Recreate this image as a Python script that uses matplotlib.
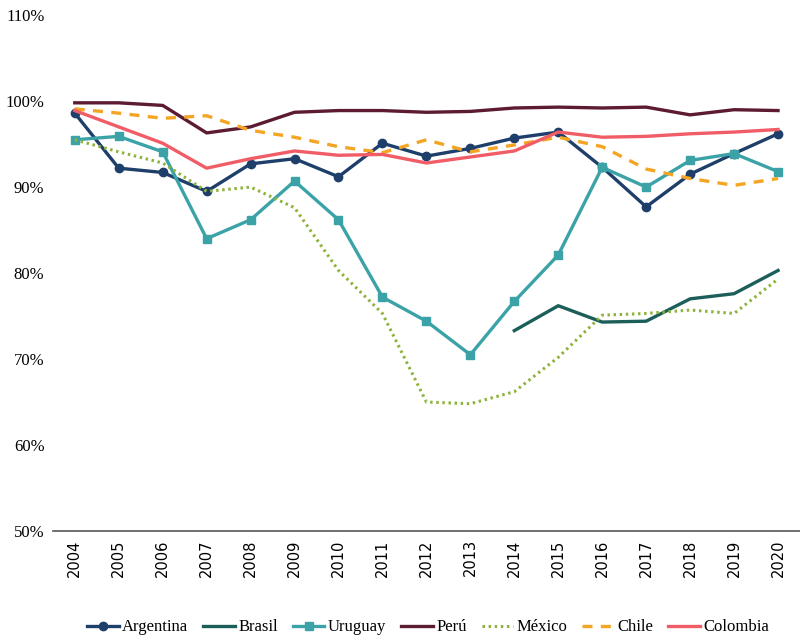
# Cobertura por país 2004-2020

import matplotlib.pyplot as plt
import numpy as np
from matplotlib.ticker import PercentFormatter

# Data
years = list(range(2004, 2021))
argentina = [98.6, 92.2, 91.7, 89.5, 92.7, 93.3, 91.2, 95.1, 93.6, 94.5, 95.7, 96.4, 92.3, 87.7, 91.5, 93.9, 96.2]
brasil = [None] * 10 + [73.3, 76.2, 74.3, 74.4, 77.0, 77.6, 80.3]
uruguay = [95.5, 95.9, 94.1, 84.0, 86.2, 90.7, 86.2, 77.2, 74.4, 70.5, 76.7, 82.1, 92.3, 90.0, 93.1, 93.9, 91.8]
peru = [99.8, 99.8, 99.5, 96.3, 97.0, 98.7, 98.9, 98.9, 98.7, 98.8, 99.2, 99.3, 99.2, 99.3, 98.4, 99.0, 98.9]
mexico = [95.5, 94.1, 92.8, 89.5, 90.0, 87.6, 80.3, 75.3, 65.0, 64.8, 66.2, 70.2, 75.1, 75.3, 75.7, 75.3, 79.3]
chile = [99.1, 98.6, 98.0, 98.3, 96.6, 95.8, 94.7, 94.0, 95.5, 94.1, 94.9, 95.8, 94.7, 92.1, 91.0, 90.2, 91.0]
colombia = [98.9, 97.0, 95.1, 92.2, 93.3, 94.2, 93.7, 93.8, 92.8, 93.5, 94.2, 96.4, 95.8, 95.9, 96.2, 96.4, 96.7]

def arr(v):
    return np.array([np.nan if x is None else x for x in v], dtype=float)

fig = plt.figure(figsize=(8, 6.44), dpi=100)
ax = fig.add_axes([0.066, 0.1755, 0.934, 0.801])

ax.plot(years, arr(argentina), label='Argentina', color='#1f3f6b', lw=2.4, marker='o', ms=6)
ax.plot(years, arr(brasil), label='Brasil', color='#1b5e5a', lw=2.4)
ax.plot(years, arr(uruguay), label='Uruguay', color='#3ba3a8', lw=2.4, marker='s', ms=6)
ax.plot(years, arr(peru), label='Perú', color='#5c1a33', lw=2.4)
ax.plot(years, arr(mexico), label='México', color='#8db33a', lw=2.2, ls=(0, (0.8, 1.2)))
ax.plot(years, arr(chile), label='Chile', color='#f5a524', lw=2.4, ls=(0, (3, 2.5)))
ax.plot(years, arr(colombia), label='Colombia', color='#f05d67', lw=2.4)

ax.set_xlim(2003.5, 2020.5)
ax.set_ylim(50, 110)
ax.set_yticks(np.arange(50, 111, 10))
ax.yaxis.set_major_formatter(PercentFormatter(decimals=0))
ax.set_xticks(years)
ax.set_xticklabels([str(y) for y in years], rotation=90, fontsize=10.5, family='DejaVu Sans')
for lbl in ax.get_yticklabels():
    lbl.set_family('Liberation Serif')
    lbl.set_fontsize(12)

for s in ['top', 'right', 'left']:
    ax.spines[s].set_visible(False)
ax.spines['bottom'].set_color('#555555')
ax.spines['bottom'].set_linewidth(1.2)
ax.tick_params(axis='both', length=0, pad=6)

fig.legend(loc='lower center', ncol=7, frameon=False, bbox_to_anchor=(0.535, -0.01),
           prop={'family': 'Liberation Serif', 'size': 12}, handlelength=1.9,
           handletextpad=0.2, columnspacing=0.9)

fig.savefig('out.png', dpi=100)
